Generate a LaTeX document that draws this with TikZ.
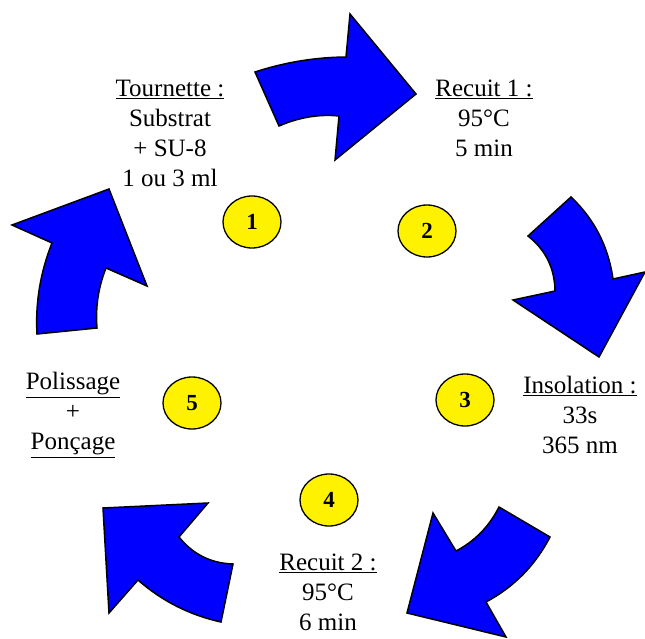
\documentclass[tikz,border=0pt]{standalone}
\usepackage{fontspec}
\setmainfont{Liberation Serif}
\usetikzlibrary{shapes.geometric}
\begin{document}
\begin{tikzpicture}[x=1pt,y=-1pt,
  bigarrow/.style={draw=black,line width=1.5pt,fill=blue,line join=miter},
  numcirc/.style={draw=black,line width=1.3pt,fill=yellow,ellipse,minimum width=58pt,minimum height=52pt,inner sep=0pt,font=\fontsize{23}{26}\selectfont\bfseries},
  lbl/.style={align=center,inner sep=0pt,font=\fontsize{25}{30}\selectfont}]
\useasboundingbox (0,0) rectangle (645,639);
% arrows
\draw[bigarrow] (255,72) .. controls (284.7,62.3) and (315,57.3) .. (346,57) -- (350,14) -- (416,94) -- (335,160) -- (339,116) .. controls (319,114) and (299,117.3) .. (279,126) -- cycle;
\draw[bigarrow] (528,236) -- (571,197) .. controls (594.3,219) and (608.3,246.3) .. (613,279) -- (645,272) -- (599,357) -- (513,300) -- (555,291) .. controls (554.7,268.3) and (545.7,250) .. (528,236) -- cycle;
\draw[bigarrow] (499,507) -- (550,537) .. controls (535.3,565.3) and (514,587) .. (486,602) -- (506,637) -- (407,613) -- (433,513) -- (456,551) .. controls (475,541) and (489.3,526.3) .. (499,507) -- cycle;
\draw[bigarrow] (233,564) -- (221,622) .. controls (189.7,615.1) and (162,601.1) .. (138,580) -- (109,613) -- (103,508) -- (208,503) -- (179,537) .. controls (192.9,554.3) and (210.9,563.3) .. (233,564) -- cycle;
\draw[bigarrow] (37,334) -- (97,328) .. controls (95.3,307.3) and (98.3,287.3) .. (106,268) -- (147,286) -- (109,189) -- (12,225) -- (52,243) .. controls (40.3,272.3) and (35.3,302.7) .. (37,334) -- cycle;
% numbered ellipses
\node[numcirc] (n1) at (252,222) {1};
\node[numcirc] (n2) at (427,231) {2};
\node[numcirc] (n3) at (465,400) {3};
\node[numcirc] (n4) at (329,500) {4};
\node[numcirc] (n5) at (192,403) {5};
% labels
\node[lbl] (t1) at (170,133) {\underline{Tournette :}\\Substrat\\+ SU-8\\1 ou 3 ml};
\node[lbl] (t2) at (484,118) {\underline{Recuit 1 :}\\95°C\\5 min};
\node[lbl] (t3) at (580,415) {\underline{Insolation :}\\33s\\365 nm};
\node[lbl] (t4) at (328,592) {\underline{Recuit 2 :}\\95°C\\6 min};
\node[lbl] (t5) at (73,415) {\underline{Polissage}\\+\\\underline{Ponçage}};
\end{tikzpicture}
\end{document}
